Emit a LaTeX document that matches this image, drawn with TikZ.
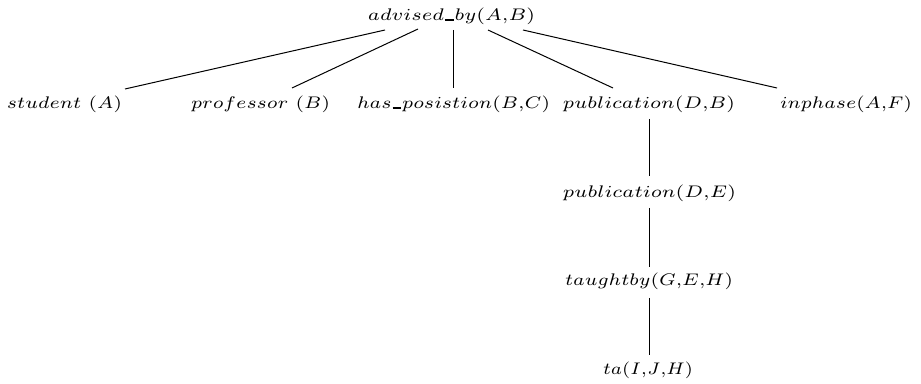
\documentclass[tikz,border=0pt]{standalone}
\usepackage{graphicx}
\tikzset{
  lbl/.style={inner sep=0pt, anchor=center},
  edge/.style={line width=0.5pt, black}
}
% #1 = width of the label in pt, #2 = formula
\newcommand{\lt}[2]{\resizebox*{#1}{8.4pt}{\scriptsize$#2$}}
\newcommand{\us}{\mbox{\kern0.3pt\rule{3.2pt}{0.65pt}\kern0.3pt}}
\begin{document}
\begin{tikzpicture}[x=0.5pt,y=-0.5pt]
\useasboundingbox (0,0) rectangle (921,384);
\node[lbl] (root) at (451.5,16.5) {\lt{83.5pt}{advised\us by(A{,}B)}};
\node[lbl] (student) at (64.5,104.5) {\lt{57.5pt}{student\ (A)}};
\node[lbl] (prof) at (260.5,104.5) {\lt{69.5pt}{professor\ (B)}};
\node[lbl] (haspos) at (453.5,104.5) {\lt{96.5pt}{has\us posistion(B{,}C)}};
\node[lbl] (pubDB) at (649,104.5) {\lt{86pt}{publication(D{,}B)}};
\node[lbl] (inph) at (846,104.5) {\lt{66pt}{inphase(A{,}F)}};
\node[lbl] (pubDE) at (649.5,193.5) {\lt{86.5pt}{publication(D{,}E)}};
\node[lbl] (taught) at (649,281) {\lt{84pt}{taughtby(G{,}E{,}H)}};
\node[lbl] (ta) at (648,370) {\lt{45pt}{ta(I{,}J{,}H)}};
% connector ends
\coordinate (r1) at (385,30);  \coordinate (s1) at (125,89);
\coordinate (r2) at (418,29);  \coordinate (s2) at (292,88);
\coordinate (r3) at (453,30);  \coordinate (s3) at (453,88);
\coordinate (r4) at (488,30);  \coordinate (s4) at (613,88);
\coordinate (r5) at (523,30);  \coordinate (s5) at (777,88);
\coordinate (p1) at (649,119); \coordinate (q1) at (649,176);
\coordinate (p2) at (649,208); \coordinate (q2) at (649,267);
\coordinate (p3) at (649,298); \coordinate (q3) at (649,355);
\draw[edge] (r1) -- (s1);
\draw[edge] (r2) -- (s2);
\draw[edge] (r3) -- (s3);
\draw[edge] (r4) -- (s4);
\draw[edge] (r5) -- (s5);
\draw[edge] (p1) -- (q1);
\draw[edge] (p2) -- (q2);
\draw[edge] (p3) -- (q3);
\end{tikzpicture}
\end{document}
